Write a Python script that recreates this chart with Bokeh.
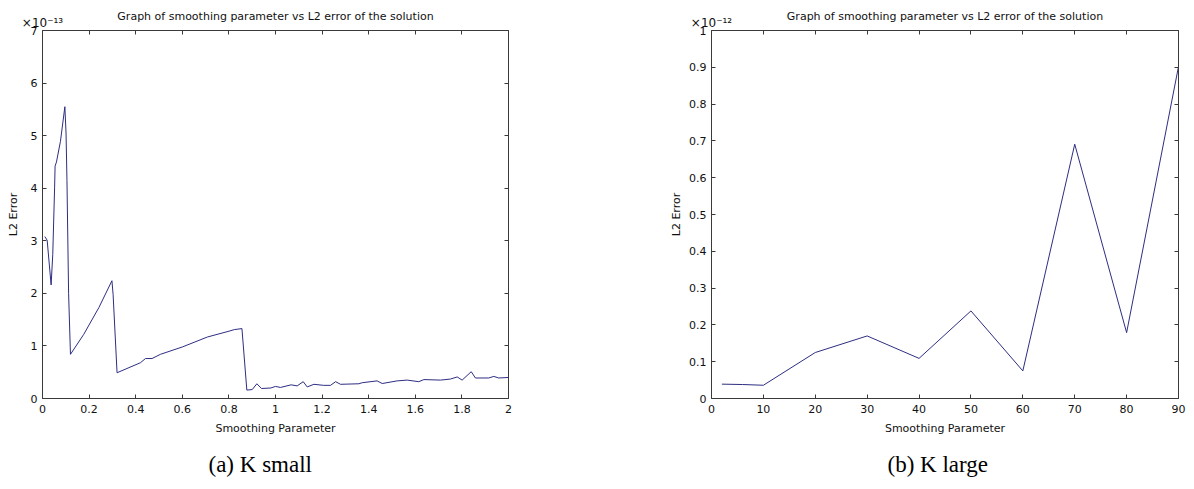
from bokeh.plotting import figure
from bokeh.layouts import row
from bokeh.models import Range1d, LinearAxis, FixedTicker, Title
from bokeh.embed import file_html
from bokeh.resources import INLINE

# ---- data -------------------------------------------------------------
# (a) K small : smoothing parameter vs L2 error (in units of 1e-13)
small_param = [0.01, 0.02, 0.037, 0.044, 0.052, 0.054, 0.06, 0.077, 0.096,
               0.101, 0.105, 0.112, 0.12, 0.177, 0.242, 0.298, 0.303, 0.32,
               0.42, 0.442, 0.47, 0.506, 0.6, 0.708, 0.8, 0.823, 0.856,
               0.877, 0.9, 0.92, 0.94, 0.98, 1.0, 1.021, 1.067, 1.093,
               1.119, 1.136, 1.165, 1.207, 1.236, 1.258, 1.279, 1.358,
               1.372, 1.436, 1.458, 1.522, 1.565, 1.615, 1.637, 1.708,
               1.751, 1.78, 1.801, 1.84, 1.858, 1.915, 1.937, 1.958, 2.0]
small_err = [3.08, 3.01, 2.16, 2.74, 4.02, 4.42, 4.5, 4.89, 5.55,
             5.05, 4.15, 2.0, 0.84, 1.22, 1.73, 2.24, 1.98, 0.49,
             0.68, 0.76, 0.76, 0.84, 0.98, 1.17, 1.28, 1.31, 1.33,
             0.16, 0.17, 0.28, 0.19, 0.2, 0.23, 0.21, 0.26, 0.24,
             0.32, 0.22, 0.27, 0.25, 0.25, 0.32, 0.27, 0.28,
             0.30, 0.335, 0.285, 0.335, 0.35, 0.32, 0.36, 0.35,
             0.37, 0.41, 0.35, 0.51, 0.39, 0.39, 0.42, 0.39, 0.40]

# (b) K large : smoothing parameter vs L2 error (in units of 1e-12)
large_param = [2, 6, 10, 20, 30, 40, 50, 60, 70, 80, 90]
large_err = [0.039, 0.038, 0.036, 0.125, 0.170, 0.109, 0.238, 0.075,
             0.691, 0.179, 0.902]

small_xticks = [0, 0.2, 0.4, 0.6, 0.8, 1, 1.2, 1.4, 1.6, 1.8, 2]
small_yticks = [0, 1, 2, 3, 4, 5, 6, 7]
large_xticks = [0, 10, 20, 30, 40, 50, 60, 70, 80, 90]
large_yticks = [0, 0.1, 0.2, 0.3, 0.4, 0.5, 0.6, 0.7, 0.8, 0.9, 1]

title_text = "Graph of smoothing parameter vs L2 error of the solution"
x_label = "Smoothing Parameter"
y_label = "L2 Error"

# ---- styling ----------------------------------------------------------
SANS = "DejaVu Sans"
SERIF = "Liberation Serif"
LINE = "#2d2d82"
AXIS = "#3a3a3a"
TEXT = "#111111"
W, H = 597, 489
TOP, BOTTOM = 30, 91


def fmt(v):
    return ("%g" % v)


def style_axis(ax, ticks, show_labels=True):
    ax.ticker = FixedTicker(ticks=ticks)
    ax.major_tick_in = 4
    ax.major_tick_out = 0
    ax.minor_tick_in = 0
    ax.minor_tick_out = 0
    ax.axis_line_color = AXIS
    ax.major_tick_line_color = AXIS
    ax.major_label_text_font = SANS
    ax.major_label_text_font_size = "11px"
    ax.major_label_text_color = TEXT
    ax.major_label_standoff = 5
    ax.axis_label_text_font = SANS
    ax.axis_label_text_font_size = "11px"
    ax.axis_label_text_font_style = "normal"
    ax.axis_label_text_color = TEXT
    if show_labels:
        ax.major_label_overrides = {t: fmt(t) for t in ticks}
    else:
        # tick marks only on the box sides
        ax.major_label_overrides = {t: "" for t in ticks}
        ax.major_label_standoff = 0


def make_panel(xs, ys, xr, yr, xticks, yticks, borders, ylab_standoff,
               multiplier, caption, caption_offset):
    left, right = borders
    p = figure(width=W, height=H, output_backend="svg",
               toolbar_location=None, x_range=Range1d(*xr),
               y_range=Range1d(*yr), min_border_left=left,
               min_border_right=right, min_border_top=TOP,
               min_border_bottom=BOTTOM, x_axis_label=x_label,
               y_axis_label=y_label)
    p.grid.visible = False
    p.outline_line_color = None
    p.background_fill_color = "white"
    p.border_fill_color = "white"

    style_axis(p.xaxis[0], xticks)
    style_axis(p.yaxis[0], yticks)
    p.xaxis[0].major_label_standoff = 6
    p.xaxis[0].axis_label_standoff = 6
    p.yaxis[0].axis_label_standoff = ylab_standoff

    # box ticks on top (carrying the y multiplier) and on the right
    top = LinearAxis()
    style_axis(top, xticks, show_labels=False)
    top.axis_label = multiplier
    top.axis_label_text_font_size = "12px"
    top.axis_label_standoff = 1
    top.axis_label_align = "start"
    p.add_layout(top, "above")
    rgt = LinearAxis()
    style_axis(rgt, yticks, show_labels=False)
    p.add_layout(rgt, "right")

    p.line(xs, ys, line_color=LINE, line_width=1)

    # plot title
    p.title = Title(text=title_text, align="center", text_font=SANS,
                    text_font_size="11px", text_font_style="normal",
                    text_color=TEXT, standoff=-21)

    # sub-figure caption
    p.add_layout(Title(text=caption, align="left", offset=caption_offset,
                       text_font=SERIF, text_font_size="23px",
                       text_font_style="normal", text_color="black",
                       standoff=24), "below")
    return p


p1 = make_panel(small_param, small_err, (0, 2), (0, 7), small_xticks,
                small_yticks, (42, 89), 8, "\u00d710\u207b\u00b9\u00b3",
                "(a) K small", 166)
p2 = make_panel(large_param, large_err, (0, 90), (0, 1), large_xticks,
                large_yticks, (114, 16), 3, "\u00d710\u207b\u00b9\u00b2",
                "(b) K large", 176)

layout = row(p1, p2)
open("out.html", "w").write(file_html(layout, INLINE))
